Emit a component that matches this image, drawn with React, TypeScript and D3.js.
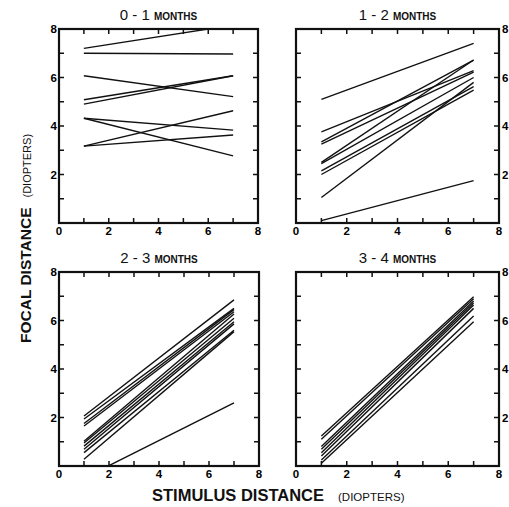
import React, { useEffect, useRef } from "react";
import * as d3 from "d3";

// stimulus distances (diopters) where each infant line is measured
const stimulus = [1, 7];

// focal distance at stimulus 1 and 7, one entry per infant
const m01Start = [7.2, 7.0, 6.07, 5.08, 4.9, 4.32, 4.32, 3.17, 3.17];
const m01End = [8.16, 6.97, 5.21, 6.07, 6.07, 3.83, 2.77, 4.63, 3.63];

const m12Start = [5.1, 3.76, 3.35, 3.25, 2.5, 2.45, 2.15, 2.0, 1.05, 0.1];
const m12End = [7.41, 6.28, 6.72, 6.22, 6.72, 6.0, 5.62, 5.48, 5.8, 1.75];

const m23Start = [2.06, 1.94, 1.75, 1.65, 1.02, 0.95, 0.82, 0.69, 0.55, 0.28, -0.5];
const m23End = [6.85, 6.5, 6.45, 6.36, 6.27, 6.09, 5.95, 5.86, 5.6, 5.54, 2.6];

const m34Start = [1.24, 1.1, 0.8, 0.69, 0.55, 0.41, 0.25, 0.11];
const m34End = [6.98, 6.9, 6.8, 6.72, 6.64, 6.5, 6.19, 5.95];

const ageLabels = ["0 - 1", "1 - 2", "2 - 3", "3 - 4"];
const xTickLabels = [0, 2, 4, 6, 8];
const yTickLabels = [2, 4, 6, 8];
const minorTicks = [1, 2, 3, 4, 5, 6, 7];

const FONT = "'Liberation Sans', Arial, sans-serif";

const App = () => {
  const svgRef = useRef<SVGSVGElement>(null);

  useEffect(() => {
    const svg = d3.select(svgRef.current);
    svg.selectAll("*").remove();

    const groups = [
      { start: m01Start, end: m01End, left: 59, top: 29, w: 199, side: "left" },
      { start: m12Start, end: m12End, left: 296, top: 29, w: 203, side: "right" },
      { start: m23Start, end: m23End, left: 59, top: 272, w: 200, side: "left" },
      { start: m34Start, end: m34End, left: 296, top: 272, w: 203, side: "right" },
    ];
    const h = 194;

    groups.forEach((p, idx) => {
      const x = d3.scaleLinear().domain([0, 8]).range([0, p.w]);
      const y = d3.scaleLinear().domain([0, 8]).range([h, 0]);
      const g = svg.append("g").attr("transform", `translate(${p.left},${p.top})`);

      //clip so lines running past 0 or 8 stop at the frame
      const clipId = `clip${idx}`;
      g.append("clipPath")
        .attr("id", clipId)
        .append("rect")
        .attr("width", p.w)
        .attr("height", h);

      const rows = p.start.map((s, i) => [
        [stimulus[0], s],
        [stimulus[1], p.end[i]],
      ]);
      const line = d3
        .line<number[]>()
        .x((d) => x(d[0]))
        .y((d) => y(d[1]));

      g.append("g")
        .attr("clip-path", `url(#${clipId})`)
        .selectAll("path")
        .data(rows)
        .join("path")
        .attr("d", line)
        .attr("fill", "none")
        .attr("stroke", "#111")
        .attr("stroke-width", 1.4);

      //inward ticks on all four sides
      const tk = 5;
      const ticks = g.append("g").attr("stroke", "#111").attr("stroke-width", 1.5);
      minorTicks.forEach((v) => {
        ticks.append("line").attr("x1", x(v)).attr("x2", x(v)).attr("y1", h).attr("y2", h - tk);
        ticks.append("line").attr("x1", x(v)).attr("x2", x(v)).attr("y1", 0).attr("y2", tk);
        ticks.append("line").attr("x1", 0).attr("x2", tk).attr("y1", y(v)).attr("y2", y(v));
        ticks.append("line").attr("x1", p.w).attr("x2", p.w - tk).attr("y1", y(v)).attr("y2", y(v));
      });

      g.append("rect")
        .attr("width", p.w)
        .attr("height", h)
        .attr("fill", "none")
        .attr("stroke", "#111")
        .attr("stroke-width", 2.2);

      g.selectAll(".xl")
        .data(xTickLabels)
        .join("text")
        .attr("x", (d) => x(d))
        .attr("y", h + 12)
        .attr("text-anchor", "middle")
        .attr("font-family", FONT)
        .attr("font-weight", "bold")
        .attr("font-size", 11.5)
        .text((d) => d);

      g.selectAll(".yl")
        .data(yTickLabels)
        .join("text")
        .attr("x", p.side === "left" ? -2 : p.w + 3)
        .attr("y", (d) => y(d) + 4)
        .attr("text-anchor", p.side === "left" ? "end" : "start")
        .attr("font-family", FONT)
        .attr("font-weight", "bold")
        .attr("font-size", 11.5)
        .text((d) => d);

      const title = g
        .append("text")
        .attr("x", p.w / 2)
        .attr("y", -9)
        .attr("text-anchor", "middle")
        .attr("font-family", FONT)
        .attr("fill", "#111");
      title.append("tspan").attr("font-size", 15).text(ageLabels[idx] + " ");
      title.append("tspan").attr("font-size", 10).attr("font-weight", "bold").text("MONTHS");
    });

    //shared axis titles
    const xt = svg
      .append("text")
      .attr("x", 152)
      .attr("y", 501)
      .attr("font-family", FONT)
      .attr("fill", "#111");
    xt.append("tspan").attr("font-size", 16.5).attr("font-weight", "bold").text("STIMULUS DISTANCE");
    xt.append("tspan").attr("dx", 14).attr("font-size", 11.5).text("(DIOPTERS)");

    const yt = svg
      .append("text")
      .attr("transform", "translate(31,343) rotate(-90)")
      .attr("font-family", FONT)
      .attr("fill", "#111");
    yt.append("tspan").attr("font-size", 15.5).attr("font-weight", "bold").text("FOCAL DISTANCE");
    yt.append("tspan").attr("dx", 10).attr("font-size", 11).text("(DIOPTERS)");
  }, []);

  return (
    <svg
      ref={svgRef}
      width={509}
      height={507}
      style={{ position: "absolute", left: 0, top: 0, background: "#fff" }}
    ></svg>
  );
};

export default App;
